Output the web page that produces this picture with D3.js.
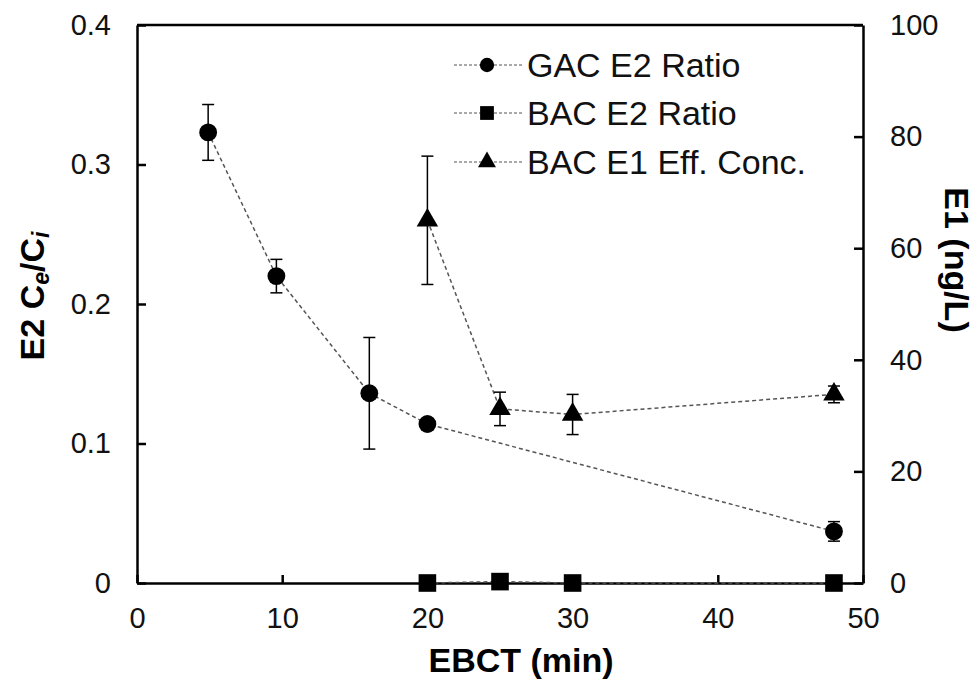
<!DOCTYPE html>
<html>
<head>
<meta charset="utf-8">
<script src="https://cdn.jsdelivr.net/npm/d3@7"></script>
<style>
  html, body { margin: 0; padding: 0; background: #fff; }
  svg { display: block; font-family: "Liberation Sans", Arial, sans-serif; }
</style>
</head>
<body>
<svg id="chart" width="979" height="679"></svg>
<script>
// EBCT (min) for each series
const gacX = [4.9, 9.6, 16, 20, 48];
const gacRatio = [0.323, 0.220, 0.136, 0.114, 0.037];
const gacErr = [0.020, 0.012, 0.040, 0, 0.007];

const bacE2X = [20, 25, 30, 48];
const bacE2Ratio = [0, 0.001, 0, 0];

const bacE1X = [20, 25, 30, 48];
const bacE1Conc = [65, 31.2, 30.2, 33.8];
const bacE1Err = [11.5, 3.0, 3.6, 1.5];

const xTicks = [0, 10, 20, 30, 40, 50];
const leftTicks = [0, 0.1, 0.2, 0.3, 0.4];
const rightTicks = [0, 20, 40, 60, 80, 100];

const seriesNames = ["GAC E2 Ratio", "BAC E2 Ratio", "BAC E1 Eff. Conc."];

const svg = d3.select("#chart");
const L = 137, R = 863, T = 25, B = 583;

const x = d3.scaleLinear().domain([0, 50]).range([L, R]);
const yL = d3.scaleLinear().domain([0, 0.4]).range([B, T]);
const yR = d3.scaleLinear().domain([0, 100]).range([B, T]);

const tickFont = 29;
const titleFont = 34;

// axes
const gx = svg.append("g").attr("transform", `translate(0,${B})`)
  .call(d3.axisBottom(x).tickValues(xTicks).tickSizeInner(-8).tickSizeOuter(0).tickPadding(24).tickFormat(d3.format("d")));
const gl = svg.append("g").attr("transform", `translate(${L},0)`)
  .call(d3.axisLeft(yL).tickValues(leftTicks).tickSizeInner(-9).tickSizeOuter(0).tickPadding(26)
    .tickFormat(d => d === 0 ? "0" : d3.format(".1f")(d)));
const gr = svg.append("g").attr("transform", `translate(${R},0)`)
  .call(d3.axisRight(yR).tickValues(rightTicks).tickSizeInner(-9).tickSizeOuter(0).tickPadding(27).tickFormat(d3.format("d")));

[gx, gl, gr].forEach(g => {
  g.select(".domain").attr("stroke", "#000").attr("stroke-width", 2.5);
  g.selectAll(".tick line").attr("stroke", "#000").attr("stroke-width", 2.5);
  g.selectAll(".tick text").attr("font-size", tickFont).attr("fill", "#111")
    .attr("font-family", "Liberation Sans, Arial, sans-serif");
});
gx.selectAll(".tick text").attr("dy", "0.71em");

// top border of the plot box
svg.append("line").attr("x1", L).attr("x2", R).attr("y1", T).attr("y2", T)
  .attr("stroke", "#000").attr("stroke-width", 2.5);

// axis titles
svg.append("text").attr("x", 521).attr("y", 672)
  .attr("text-anchor", "middle").attr("font-size", titleFont).attr("font-weight", "bold")
  .text("EBCT (min)");

const lt = svg.append("text")
  .attr("transform", `translate(44,296) rotate(-90)`)
  .attr("text-anchor", "middle").attr("font-size", titleFont).attr("font-weight", "bold");
lt.append("tspan").text("E2 C");
lt.append("tspan").attr("font-size", 23).attr("font-style", "italic").attr("dy", 5).text("e");
lt.append("tspan").attr("dy", -5).text("/C");
lt.append("tspan").attr("font-size", 23).attr("font-style", "italic").attr("dy", 5).text("i");

svg.append("text")
  .attr("transform", `translate(945,260) rotate(90)`)
  .attr("text-anchor", "middle").attr("font-size", titleFont).attr("font-weight", "bold")
  .text("E1 (ng/L)");

const lineColor = "#555";
const dash = "4,3";

// connecting dashed lines
const lineGen = (xs, ys2) => d3.line().x((d, i) => x(xs[i])).y(d => ys2(d));
svg.append("path").datum(bacE2Ratio).attr("fill", "none").attr("stroke", lineColor)
  .attr("stroke-width", 1.5).attr("stroke-dasharray", dash).attr("d", lineGen(bacE2X, yL));
svg.append("path").datum(gacRatio).attr("fill", "none").attr("stroke", lineColor)
  .attr("stroke-width", 1.5).attr("stroke-dasharray", dash).attr("d", lineGen(gacX, yL));
svg.append("path").datum(bacE1Conc).attr("fill", "none").attr("stroke", lineColor)
  .attr("stroke-width", 1.5).attr("stroke-dasharray", dash).attr("d", lineGen(bacE1X, yR));

// error bars
function errorBars(xs, ys, es, scale) {
  const g = svg.append("g").attr("stroke", "#000").attr("stroke-width", 1.5);
  ys.forEach((v, i) => {
    if (!es[i]) return;
    const cx = x(xs[i]), top = scale(v + es[i]), bot = scale(v - es[i]);
    g.append("line").attr("x1", cx).attr("x2", cx).attr("y1", top).attr("y2", bot);
    g.append("line").attr("x1", cx - 6).attr("x2", cx + 6).attr("y1", top).attr("y2", top);
    g.append("line").attr("x1", cx - 6).attr("x2", cx + 6).attr("y1", bot).attr("y2", bot);
  });
}
errorBars(gacX, gacRatio, gacErr, yL);
errorBars(bacE1X, bacE1Conc, bacE1Err, yR);

// markers
const sym = (type, size) => d3.symbol().type(type).size(size)();
svg.append("g").selectAll("path").data(gacRatio).join("path")
  .attr("transform", (d, i) => `translate(${x(gacX[i])},${yL(d)})`)
  .attr("d", sym(d3.symbolCircle, 250)).attr("fill", "#000");
svg.append("g").selectAll("path").data(bacE2Ratio).join("path")
  .attr("transform", (d, i) => `translate(${x(bacE2X[i])},${yL(d)})`)
  .attr("d", sym(d3.symbolSquare, 310)).attr("fill", "#000");
svg.append("g").selectAll("path").data(bacE1Conc).join("path")
  .attr("transform", (d, i) => `translate(${x(bacE1X[i])},${yR(d)})`)
  .attr("d", sym(d3.symbolTriangle, 200)).attr("fill", "#000");

// legend
const legendRows = [65, 113, 162];
const legendSyms = [[d3.symbolCircle, 160], [d3.symbolSquare, 190], [d3.symbolTriangle, 140]];
const lg = svg.append("g");
seriesNames.forEach((name, i) => {
  const yy = legendRows[i];
  lg.append("line").attr("x1", 454).attr("x2", 523).attr("y1", yy).attr("y2", yy)
    .attr("stroke", lineColor).attr("stroke-width", 1.2).attr("stroke-dasharray", "3,2");
  lg.append("path").attr("transform", `translate(487,${yy})`)
    .attr("d", sym(legendSyms[i][0], legendSyms[i][1])).attr("fill", "#000");
  lg.append("text").attr("x", 527).attr("y", yy).attr("dy", "0.35em")
    .attr("font-size", 34).attr("fill", "#111").text(name);
});
</script>
</body>
</html>
